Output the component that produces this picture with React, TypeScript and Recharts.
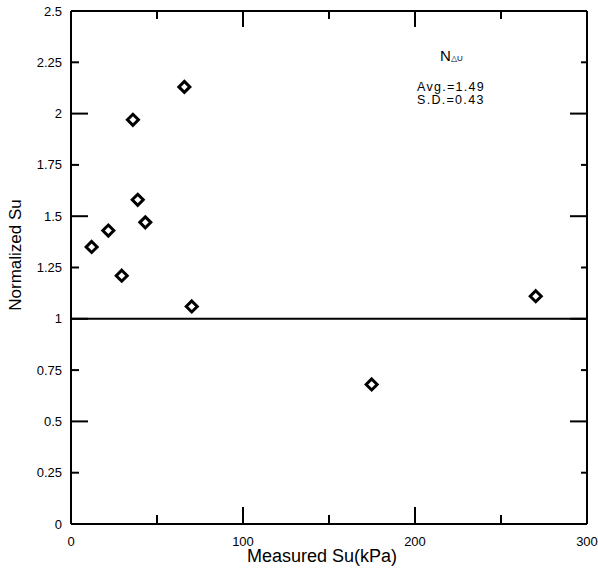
import { ScatterChart, Scatter, XAxis, YAxis, ReferenceLine, Customized } from 'recharts';

// measured Su (kPa) vs normalized Su
const measuredSu = [12.0, 21.7, 29.5, 36.0, 38.8, 43.2, 65.9, 70.2, 174.8, 270.2];
const normalizedSu = [1.35, 1.43, 1.21, 1.97, 1.58, 1.47, 2.13, 1.06, 0.68, 1.11];

const xTicks = [0, 50, 100, 150, 200, 250, 300];
const yTicks = [0, 0.25, 0.5, 0.75, 1, 1.25, 1.5, 1.75, 2, 2.25, 2.5];

const points = measuredSu.map((x, i) => ({ x, y: normalizedSu[i] }));

const FONT = '"Liberation Sans", Arial, sans-serif';
const W = 598;
const H = 574;
const PLOT_LEFT = 71;
const PLOT_RIGHT = 587;
const PLOT_TOP = 11;
const PLOT_BOTTOM = 524;
const X_MAX = 300;
const Y_MAX = 2.5;
// px per data unit, used to turn inward tick-mark lengths into data units
const PX_X = (PLOT_RIGHT - PLOT_LEFT) / X_MAX;
const PX_Y = (PLOT_BOTTOM - PLOT_TOP) / Y_MAX;

const isMajorY = (v: number) => Math.abs(v * 2 - Math.round(v * 2)) < 1e-6;
const isMajorX = (v: number) => v % 100 === 0;

const innerY = yTicks.filter((v) => v > 0 && v < Y_MAX);
const innerX = xTicks.filter((v) => v > 0 && v < X_MAX);

function LeftTick(props: any) {
  const { y, payload } = props;
  return (
    <text x={PLOT_LEFT - 9} y={y + 4.5} textAnchor="end" fontSize={13} fontFamily={FONT} fill="#000">
      {String(payload.value)}
    </text>
  );
}

function BottomTick(props: any) {
  const { x, payload } = props;
  const v = Number(payload.value);
  if (!isMajorX(v)) return <g />;
  return (
    <text x={x} y={546} textAnchor="middle" fontSize={13} fontFamily={FONT} fill="#000">
      {String(v)}
    </text>
  );
}

function Diamond({ cx, cy }: any) {
  const r = 5.5;
  return (
    <polygon
      points={`${cx},${cy - r} ${cx + r},${cy} ${cx},${cy + r} ${cx - r},${cy}`}
      fill="#fff"
      stroke="#000"
      strokeWidth={3}
    />
  );
}

function Annotations() {
  return (
    <g fontFamily={FONT} fill="#000">
      <text x={440} y={61} fontSize={15}>N</text>
      <text x={451} y={61} fontSize={8}>△U</text>
      <text x={417} y={91} fontSize={12.5} letterSpacing={1.3}>Avg.=1.49</text>
      <text x={417} y={104} fontSize={12.5} letterSpacing={1.3}>S.D.=0.43</text>
      <text x={322} y={562} fontSize={18} textAnchor="middle">Measured Su(kPa)</text>
      <text x={21} y={255} fontSize={17} textAnchor="middle" transform="rotate(-90 21 255)">
        Normalized Su
      </text>
    </g>
  );
}

const tickStyle = { stroke: '#000', strokeWidth: 2 };

export default function App() {
  return (
    <div style={{ position: 'absolute', left: 0, top: 0, width: W, height: H, background: '#fff' }}>
      <ScatterChart width={W} height={H} margin={{ top: PLOT_TOP - 1, right: W - PLOT_RIGHT - 1, bottom: 0, left: 0 }}>
        <XAxis
          type="number"
          dataKey="x"
          domain={[0, X_MAX]}
          ticks={xTicks}
          interval={0}
          height={H - PLOT_BOTTOM}
          axisLine={{ stroke: '#000', strokeWidth: 2 }}
          tickLine={false}
          tick={<BottomTick />}
        />
        <XAxis
          xAxisId="top"
          orientation="top"
          type="number"
          domain={[0, X_MAX]}
          height={1}
          axisLine={{ stroke: '#000', strokeWidth: 2 }}
          tickLine={false}
          tick={false}
        />
        <YAxis
          type="number"
          dataKey="y"
          domain={[0, Y_MAX]}
          ticks={yTicks}
          interval={0}
          width={PLOT_LEFT}
          axisLine={{ stroke: '#000', strokeWidth: 2 }}
          tickLine={false}
          tick={<LeftTick />}
        />
        <YAxis
          yAxisId="right"
          orientation="right"
          type="number"
          domain={[0, Y_MAX]}
          width={1}
          axisLine={{ stroke: '#000', strokeWidth: 2 }}
          tickLine={false}
          tick={false}
        />

        {/* inward tick marks on all four sides */}
        {innerY.map((v) => (
          <ReferenceLine key={`l${v}`} segment={[{ x: 0, y: v }, { x: (isMajorY(v) ? 17 : 8) / PX_X, y: v }]} {...tickStyle} />
        ))}
        {innerY.map((v) => (
          <ReferenceLine key={`r${v}`} segment={[{ x: X_MAX, y: v }, { x: X_MAX - (isMajorY(v) ? 17 : 6) / PX_X, y: v }]} {...tickStyle} />
        ))}
        {innerX.map((v) => (
          <ReferenceLine key={`b${v}`} segment={[{ x: v, y: 0 }, { x: v, y: (isMajorX(v) ? 17 : 9) / PX_Y }]} {...tickStyle} />
        ))}
        {innerX.map((v) => (
          <ReferenceLine key={`t${v}`} segment={[{ x: v, y: Y_MAX }, { x: v, y: Y_MAX - (isMajorX(v) ? 16 : 8) / PX_Y }]} {...tickStyle} />
        ))}

        <ReferenceLine y={1} stroke="#000" strokeWidth={2} />
        <Scatter data={points} shape={<Diamond />} isAnimationActive={false} />
        <Customized component={<Annotations />} />
      </ScatterChart>
    </div>
  );
}
